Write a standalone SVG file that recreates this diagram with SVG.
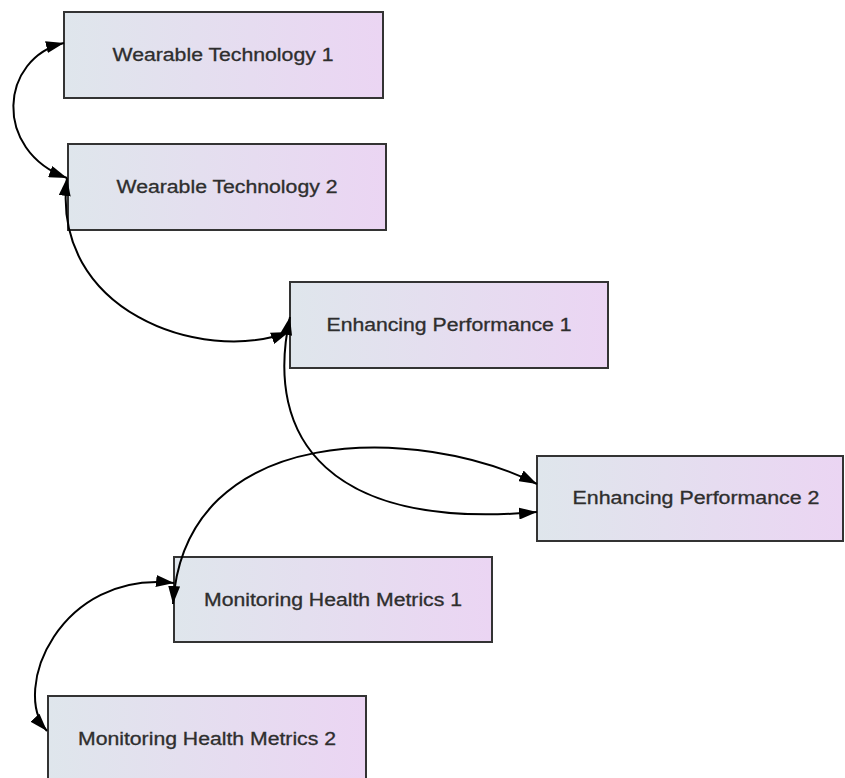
<svg xmlns="http://www.w3.org/2000/svg" width="845" height="778" viewBox="0 0 845 778">
<defs>
<linearGradient id="g" x1="0" y1="0" x2="1" y2="0">
<stop offset="0" stop-color="#dfe6ec"/>
<stop offset="1" stop-color="#ebd5f3"/>
</linearGradient>
<marker id="ah" viewBox="0 0 18 12" refX="18" refY="6" markerWidth="18" markerHeight="12" markerUnits="userSpaceOnUse" orient="auto-start-reverse">
<path d="M0,0 L18,6 L0,12 Z" fill="#000"/>
</marker>
<style>
.box{fill:url(#g);stroke:#333;stroke-width:2}
.lbl{font-family:"Liberation Sans",Arial,sans-serif;font-size:17.5px;fill:#2e2e2e;text-anchor:middle;stroke:#2e2e2e;stroke-width:0.3}
.e{fill:none;stroke:#000;stroke-width:2;marker-start:url(#ah);marker-end:url(#ah)}
</style>
</defs>
<rect width="845" height="778" fill="#fff"/>
<g id="wt1"><rect class="box" x="64" y="12" width="319" height="86"/><text class="lbl" x="223" y="61" textLength="221" lengthAdjust="spacingAndGlyphs">Wearable Technology 1</text></g>
<g id="wt2"><rect class="box" x="68" y="144" width="318" height="86"/><text class="lbl" x="227" y="193" textLength="221" lengthAdjust="spacingAndGlyphs">Wearable Technology 2</text></g>
<g id="ep1"><rect class="box" x="290" y="282" width="318" height="86"/><text class="lbl" x="449" y="331" textLength="245" lengthAdjust="spacingAndGlyphs">Enhancing Performance 1</text></g>
<g id="ep2"><rect class="box" x="537" y="456" width="306" height="85"/><text class="lbl" x="696" y="504" textLength="247" lengthAdjust="spacingAndGlyphs">Enhancing Performance 2</text></g>
<g id="mhm1"><rect class="box" x="174" y="557" width="318" height="85"/><text class="lbl" x="333" y="606" textLength="258" lengthAdjust="spacingAndGlyphs">Monitoring Health Metrics 1</text></g>
<g id="mhm2"><rect class="box" x="48" y="696" width="318" height="86"/><text class="lbl" x="207" y="745" textLength="258" lengthAdjust="spacingAndGlyphs">Monitoring Health Metrics 2</text></g>
<g id="edges">
<path class="e" d="M64,43 C0,58 -8,150 67,178"/>
<path class="e" d="M67,178 C50,310 200,365 289,332"/>
<path class="e" d="M290,317 C263,440 330,530 537,512"/>
<path class="e" d="M537,484 C420,425 185,420 173,604"/>
<path class="e" d="M174,583 C60,570 10,690 47,731"/>
</g>
</svg>
